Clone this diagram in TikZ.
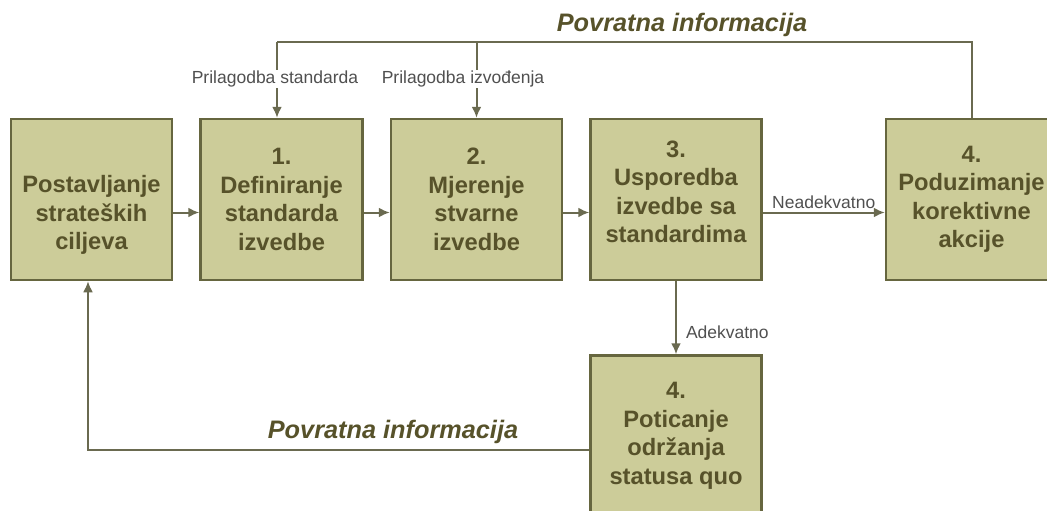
\documentclass[tikz,border=0pt]{standalone}
\usepackage{fontspec}
\setmainfont{Liberation Sans}
\usetikzlibrary{positioning,arrows.meta}
\definecolor{boxfill}{HTML}{CCCC99}
\definecolor{boxline}{HTML}{66663F}
\definecolor{boxtext}{HTML}{57522A}
\definecolor{conn}{HTML}{6A6A50}
\definecolor{labtext}{HTML}{505050}

\begin{document}
\begin{tikzpicture}[x=1pt, y=1pt, node distance=26pt,
  main/.style = {draw=boxline, line width=2.5pt, fill=boxfill, minimum width=171pt, minimum height=161pt, align=center, text=boxtext, font=\fontsize{23.7}{28.5}\selectfont\bfseries, inner sep=0pt},
  lab/.style = {text=labtext, font=\fontsize{17.5}{20}\selectfont, inner sep=1pt},
  fb/.style = {text=boxtext, font=\fontsize{25.3}{28}\selectfont\bfseries\itshape},
  line/.style = {draw=conn, line width=2pt},
  arr/.style = {line, -{Latex[length=11pt,width=10pt]}}]
\useasboundingbox (0,0) rectangle (1047,-511);
\node[main, minimum width=161pt] (0) at (91.5,-199.5) {\strut\\Postavljanje\\strateških\\ciljeva};
\node[main, minimum width=162pt, right=of 0] (1) {1.\\Definiranje\\standarda\\izvedbe};
\node[main, right=of 1] (2) {2.\\Mjerenje\\stvarne\\izvedbe};
\node[main, right=of 2] (3) {3.\\Usporedba\\izvedbe sa\\standardima\\[-21pt]\strut};
\node[main, right=122pt of 3] (4) {4.\\Poduzimanje\\korektivne\\akcije};
\node[main, below=73pt of 3] (5) {4.\\Poticanje\\održanja\\statusa quo};
\draw[arr] ([yshift=-13pt]0.east) -- ([yshift=-13pt]1.west);
\draw[arr] ([yshift=-13pt]1.east) -- ([yshift=-13pt]2.west);
\draw[arr] ([yshift=-13pt]2.east) -- ([yshift=-13pt]3.west);
\draw[arr] ([yshift=-13pt]3.east) -- node[lab, above=2pt]{Neadekvatno} ([yshift=-13pt]4.west);
\draw[arr] (3) -- node[lab, right=8pt, pos=0.7]{Adekvatno} (5);
% gornja povratna veza
\coordinate (top) at (277,-42);
\draw[line] (4.north) |- (top);
\draw[arr] (top) -- (top |- 1.north);
\draw[arr] (2.north |- top) -- (2.north);
\node[lab, fill=white] (ps) at (275,-79) {Prilagodba standarda};
\node[lab, fill=white] (pi) at (463,-79) {Prilagodba izvođenja};
\node[fb] (fbt) at (682,-25) {Povratna informacija};
% donja povratna veza
\draw[arr] ([yshift=-13.5pt]5.west) -| ([xshift=-3.5pt]0.south);
\node[fb] (fbb) at (393,-432) {Povratna informacija};
\end{tikzpicture}
\end{document}
